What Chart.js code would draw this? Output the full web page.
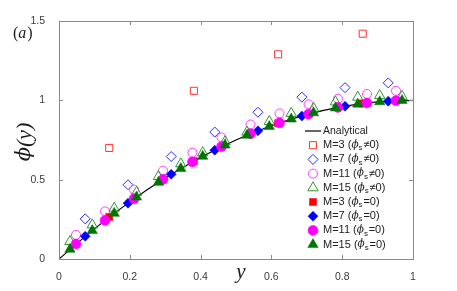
<!DOCTYPE html>
<html>
<head>
<meta charset="utf-8">
<script src="https://cdn.jsdelivr.net/npm/chart.js"></script>
<style>
  html, body { margin: 0; padding: 0; background: #fff; }
  #chart { display: block; }
</style>
</head>
<body>
<canvas id="chart" width="457" height="291"></canvas>
<script>
// Perfil phi(y): solucion analitica y resultados para M = 3, 7, 11, 15
const yAnalytical = [0, 0.1, 0.2, 0.3, 0.4, 0.5, 0.6, 0.7, 0.8, 0.9, 1];
const phiAnalytical = [0, 0.19, 0.36, 0.51, 0.64, 0.75, 0.84, 0.91, 0.96, 0.99, 1];

const yM3 = [0.142, 0.381, 0.619, 0.858];
const phiM3Open = [0.70, 1.06, 1.29, 1.42];
const phiM3Fill = [0.265, 0.617, 0.855, 0.98];

const yM7 = [0.074, 0.195, 0.317, 0.44, 0.562, 0.686, 0.808, 0.93];
const phiM7Open = [0.253, 0.468, 0.646, 0.80, 0.925, 1.02, 1.08, 1.11];
const phiM7Fill = [0.143, 0.352, 0.534, 0.686, 0.808, 0.901, 0.963, 0.995];

const yM11 = [0.048, 0.13, 0.212, 0.294, 0.377, 0.459, 0.541, 0.623, 0.705, 0.788, 0.870, 0.952];
const phiM11Open = [0.152, 0.30, 0.437, 0.557, 0.67, 0.766, 0.848, 0.918, 0.975, 1.01, 1.04, 1.06];
const phiM11Fill = [0.094, 0.243, 0.379, 0.502, 0.612, 0.708, 0.789, 0.858, 0.913, 0.955, 0.983, 0.998];

const yM15 = [0.031, 0.094, 0.156, 0.219, 0.281, 0.344, 0.406, 0.469, 0.531, 0.594, 0.656, 0.719, 0.781, 0.844, 0.906, 0.969];
const phiM15Open = [0.11, 0.215, 0.32, 0.42, 0.52, 0.60, 0.67, 0.74, 0.80, 0.867, 0.918, 0.95, 0.99, 1.02, 1.03, 1.025];
const phiM15Fill = [0.061, 0.179, 0.288, 0.39, 0.483, 0.57, 0.647, 0.718, 0.78, 0.835, 0.882, 0.921, 0.952, 0.976, 0.991, 0.999];

const xTicks = [0, 0.2, 0.4, 0.6, 0.8, 1];
const yTicks = [0, 0.5, 1, 1.5];

const PHI = '\u03d5';

const legendItems = [
  { type: 'line', label: 'Analytical' },
  { m: 'M=3', rel: '\u22600', style: 'rect', color: '#ff3030', fill: false, r: 5 },
  { m: 'M=7', rel: '\u22600', style: 'rectRot', color: '#2b2bff', fill: false, r: 5 },
  { m: 'M=11', rel: '\u22600', style: 'circle', color: '#ff40ff', fill: false, r: 4.5 },
  { m: 'M=15', rel: '\u22600', style: 'triangle', color: '#2e9a2e', fill: false, r: 6 },
  { m: 'M=3', rel: '=0', style: 'rect', color: '#ff0000', fill: true, r: 5 },
  { m: 'M=7', rel: '=0', style: 'rectRot', color: '#0000ff', fill: true, r: 5 },
  { m: 'M=11', rel: '=0', style: 'circle', color: '#ff00ff', fill: true, r: 5 },
  { m: 'M=15', rel: '=0', style: 'triangle', color: '#007400', fill: true, r: 6 }
];

function pts(xs, ys) { return xs.map((x, i) => ({ x: x, y: ys[i] })); }

function markerSet(label, xs, ys, style, color, filled, r, order) {
  return {
    type: 'scatter', label: label, data: pts(xs, ys), showLine: false,
    pointStyle: style, pointRadius: r, pointHoverRadius: r,
    pointBorderColor: color, pointBackgroundColor: filled ? color : 'rgba(0,0,0,0)',
    pointBorderWidth: filled ? 0.5 : 1, order: order
  };
}

// marco con marcas hacia adentro (estilo MATLAB)
const framePlugin = {
  id: 'frame',
  afterDraw(chart) {
    const ctx = chart.ctx, a = chart.chartArea;
    const sx = chart.scales.x, sy = chart.scales.y;
    ctx.save();
    ctx.strokeStyle = '#8a8a8a';
    ctx.lineWidth = 1;
    ctx.strokeRect(Math.round(a.left) + 0.5, Math.round(a.top) + 0.5, Math.round(a.right - a.left), Math.round(a.bottom - a.top));
    ctx.beginPath();
    xTicks.forEach(v => {
      const px = Math.round(sx.getPixelForValue(v)) + 0.5;
      ctx.moveTo(px, a.bottom); ctx.lineTo(px, a.bottom - 4);
      ctx.moveTo(px, a.top); ctx.lineTo(px, a.top + 4);
    });
    yTicks.forEach(v => {
      const py = Math.round(sy.getPixelForValue(v)) + 0.5;
      ctx.moveTo(a.left, py); ctx.lineTo(a.left + 4, py);
      ctx.moveTo(a.right, py); ctx.lineTo(a.right - 4, py);
    });
    ctx.stroke();
    ctx.restore();
  }
};

// titulos de ejes, etiqueta (a) y leyenda
const textPlugin = {
  id: 'texts',
  afterDraw(chart) {
    const ctx = chart.ctx;
    ctx.save();
    ctx.fillStyle = '#1a1a1a';
    ctx.textBaseline = 'middle';

    // (a)
    ctx.font = '16px "Liberation Serif"';
    ctx.textAlign = 'left';
    let x0 = 13;
    ctx.fillText('(', x0, 34); x0 += ctx.measureText('(').width;
    ctx.font = 'italic 16px "Liberation Serif"';
    ctx.fillText('a', x0, 34); x0 += ctx.measureText('a').width + 1;
    ctx.font = '16px "Liberation Serif"';
    ctx.fillText(')', x0, 34);

    // eje x
    ctx.font = 'italic 21px "Liberation Serif"';
    ctx.textAlign = 'center';
    ctx.fillText('y', 241, 272);

    // eje y
    ctx.translate(25, 142);
    ctx.rotate(-Math.PI / 2);
    ctx.textAlign = 'left';
    ctx.font = 'italic 21px "DejaVu Serif"';
    const wPhi = ctx.measureText(PHI).width;
    ctx.font = 'italic 22px "Liberation Serif"';
    const wRest = ctx.measureText('(y)').width;
    let tx0 = -(wPhi + wRest) / 2;
    ctx.font = 'italic 21px "DejaVu Serif"';
    ctx.fillText(PHI, tx0, 0);
    ctx.font = 'italic 22px "Liberation Serif"';
    ctx.fillText('(y)', tx0 + wPhi, 0);
    ctx.setTransform(1, 0, 0, 1, 0, 0);

    // leyenda
    const lx = 305, tx = 323, mx = 313;
    let ly = 131;
    legendItems.forEach(item => {
      if (item.type === 'line') {
        ctx.strokeStyle = '#000';
        ctx.lineWidth = 1.2;
        ctx.beginPath(); ctx.moveTo(lx, ly); ctx.lineTo(lx + 16, ly); ctx.stroke();
        ctx.fillStyle = '#222';
        ctx.font = '10.5px "Liberation Sans"';
        ctx.textAlign = 'left';
        ctx.fillText(item.label, tx, ly);
      } else {
        ctx.strokeStyle = item.color;
        ctx.fillStyle = item.fill ? item.color : 'rgba(0,0,0,0)';
        ctx.lineWidth = item.fill ? 0.5 : 1;
        Chart.helpers.drawPoint(ctx, { pointStyle: item.style, radius: item.r, rotation: 0, borderWidth: ctx.lineWidth }, mx, ly);
        ctx.fillStyle = '#222';
        ctx.textAlign = 'left';
        let cx = tx;
        ctx.font = '11px "Liberation Sans"';
        const s1 = item.m + ' (';
        ctx.fillText(s1, cx, ly); cx += ctx.measureText(s1).width;
        ctx.font = 'italic 10.5px "DejaVu Serif"';
        ctx.fillText(PHI, cx, ly); cx += ctx.measureText(PHI).width;
        ctx.font = '8px "Liberation Sans"';
        ctx.fillText('s', cx, ly + 3); cx += ctx.measureText('s').width + 0.8;
        ctx.font = '11px "Liberation Sans"';
        ctx.fillText(item.rel + ')', cx, ly);
      }
      ly += 14.2;
    });
    ctx.restore();
  }
};

new Chart(document.getElementById('chart').getContext('2d'), {
  data: {
    datasets: [
      { type: 'line', label: 'Analytical', data: pts(yAnalytical, phiAnalytical), borderColor: '#000', borderWidth: 1.2,
        pointRadius: 0, cubicInterpolationMode: 'monotone', fill: false, order: 20 },
      markerSet('M=3 open', yM3, phiM3Open, 'rect', '#ff3030', false, 5, 19),
      markerSet('M=7 open', yM7, phiM7Open, 'rectRot', '#2b2bff', false, 5, 18),
      markerSet('M=11 open', yM11, phiM11Open, 'circle', '#ff40ff', false, 4.5, 17),
      markerSet('M=15 open', yM15, phiM15Open, 'triangle', '#2e9a2e', false, 6, 16),
      markerSet('M=3 filled', yM3, phiM3Fill, 'rect', '#ff0000', true, 5, 15),
      markerSet('M=7 filled', yM7, phiM7Fill, 'rectRot', '#0000ff', true, 5, 14),
      markerSet('M=11 filled', yM11, phiM11Fill, 'circle', '#ff00ff', true, 5, 13),
      markerSet('M=15 filled', yM15, phiM15Fill, 'triangle', '#007400', true, 6, 12)
    ]
  },
  options: {
    responsive: false,
    animation: false,
    layout: { padding: { left: 0, right: 44, top: 21, bottom: 0 } },
    plugins: { legend: { display: false }, tooltip: { enabled: false } },
    scales: {
      x: {
        type: 'linear', min: 0, max: 1,
        afterBuildTicks: s => { s.ticks = xTicks.map(v => ({ value: v })); },
        afterFit: s => { s.height = 32; },
        grid: { display: false }, border: { display: false },
        ticks: { padding: 4, color: '#3a3a3a', font: { family: 'Liberation Sans', size: 10.5 }, callback: v => String(v) }
      },
      y: {
        type: 'linear', min: 0, max: 1.5,
        afterBuildTicks: s => { s.ticks = yTicks.map(v => ({ value: v })); },
        afterFit: s => { s.width = 59; },
        grid: { display: false }, border: { display: false },
        ticks: { padding: 6, color: '#3a3a3a', font: { family: 'Liberation Sans', size: 10.5 }, callback: v => String(v) }
      }
    }
  },
  plugins: [framePlugin, textPlugin]
});
</script>
</body>
</html>
